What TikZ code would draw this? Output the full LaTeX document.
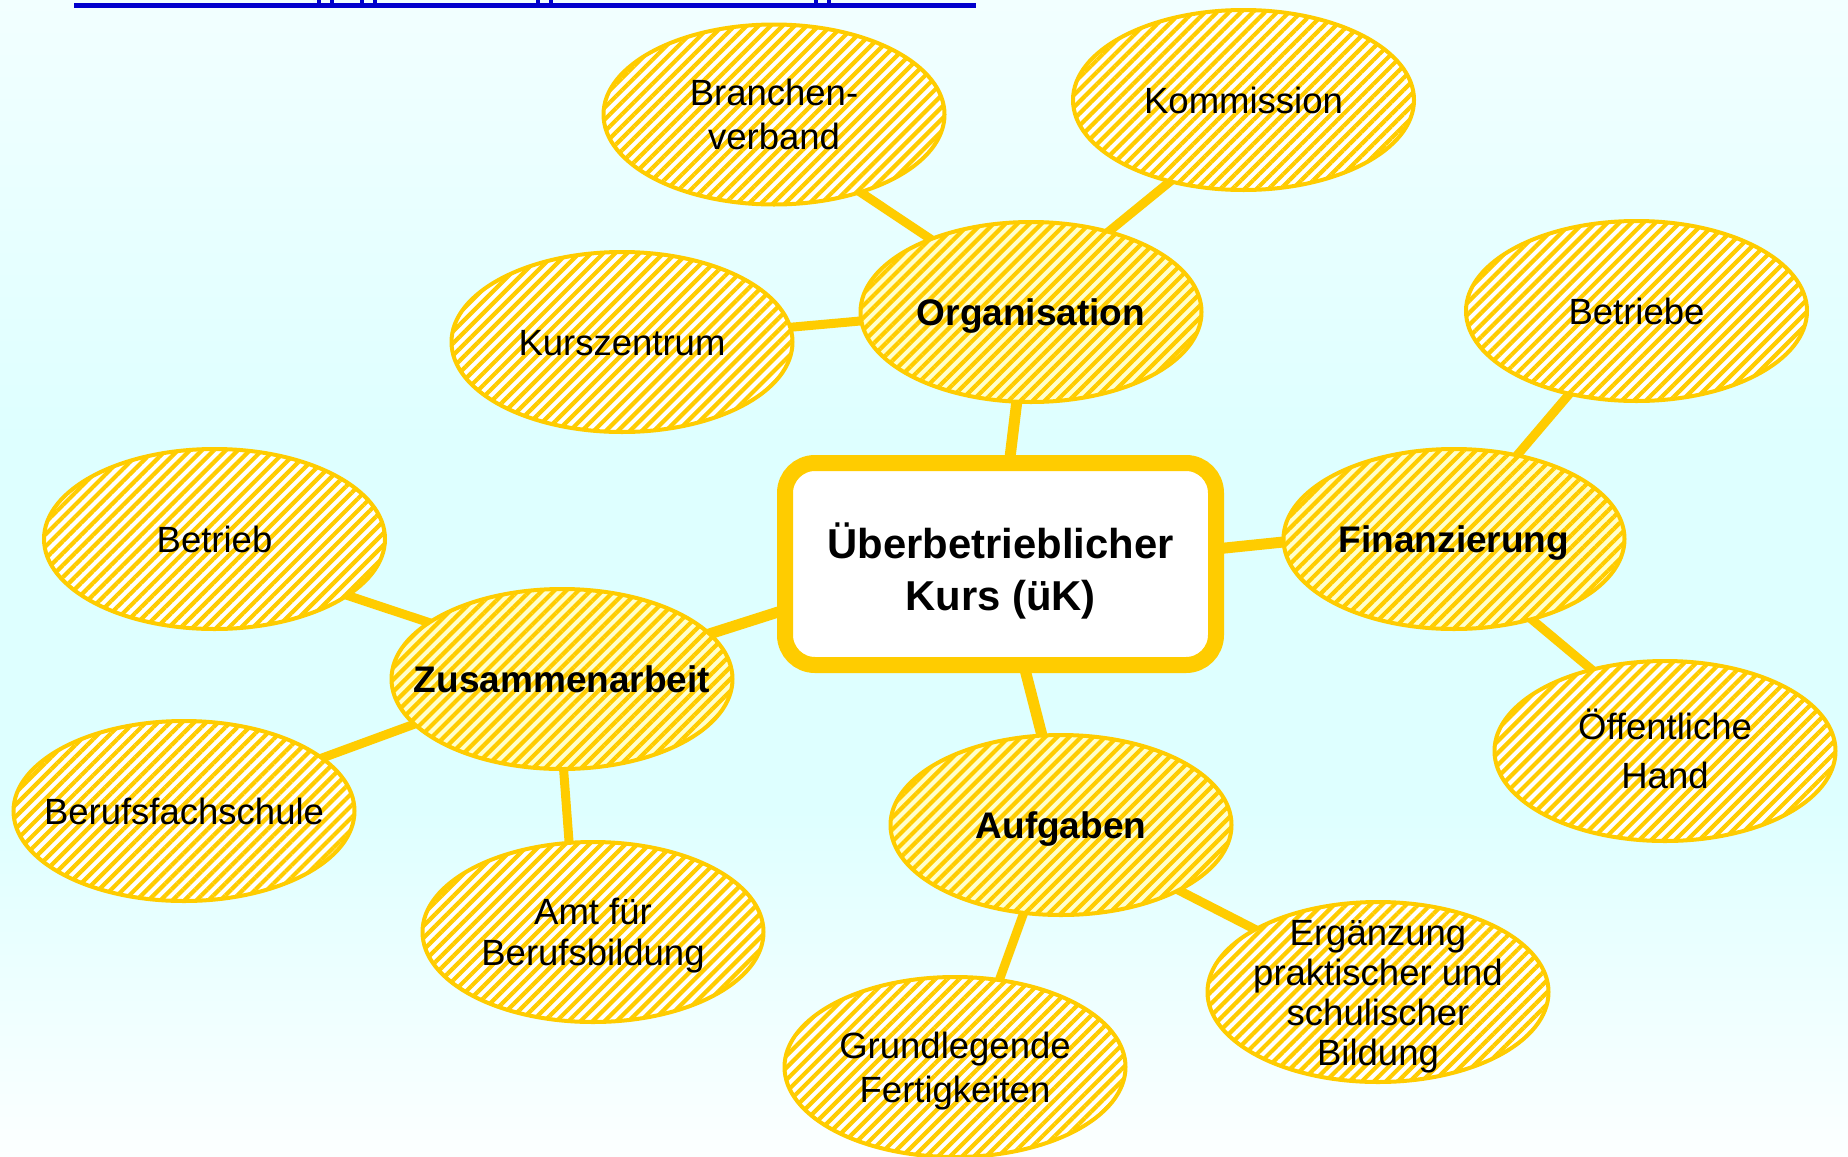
\documentclass[tikz,border=0pt]{standalone}
\usepackage{fontspec}
\setmainfont{Liberation Sans}
\usetikzlibrary{shapes.geometric,patterns.meta}
\definecolor{gold}{RGB}{255,204,0}
\definecolor{pale}{RGB}{255,255,204}
\definecolor{linkblue}{RGB}{0,0,204}
\definecolor{bgtop}{RGB}{242,255,255}
\definecolor{bgmid}{RGB}{222,255,255}
\definecolor{bgbot}{RGB}{252,255,255}
\pgfdeclareverticalshading{bgshade}{100bp}{color(0bp)=(bgbot); color(25bp)=(bgbot); color(40bp)=(bgmid); color(56bp)=(bgmid); color(75bp)=(bgtop); color(100bp)=(bgtop)}
\pgfdeclarelayer{bg}
\pgfdeclarelayer{background}
\pgfsetlayers{bg,background,main}
\newcommand{\LL}[1]{\rule{0pt}{0.716em}\smash{#1}}
\tikzset{
  bub/.style={ellipse, draw=gold, line width=4pt, minimum width=341pt,
    minimum height=180pt, inner sep=0pt, outer sep=0pt, fill=white,
    postaction={pattern={Lines[angle=45,distance=8.5pt,line width=4.2pt]}, pattern color=gold}},
  mainbub/.style={bub, fill=pale},
  lbl/.style={font=\fontsize{36.5}{42}\selectfont, align=center, text=black, inner sep=0pt},
  blbl/.style={font=\fontsize{37}{42}\selectfont\bfseries, align=center, text=black, inner sep=0pt},
  conn/.style={draw=gold, line width=11pt, shorten <=-14pt, shorten >=-14pt},
  subconn/.style={draw=gold, line width=9pt, shorten <=-12pt, shorten >=-12pt},
  centerbox/.style={draw=gold, line width=16pt, rounded corners=30pt, fill=white,
    minimum width=431pt, minimum height=202pt, inner sep=0pt, outer sep=0pt},
  centertext/.style={font=\fontsize{41.8}{52}\selectfont\bfseries, align=center, text=black, inner sep=0pt},
  linkbar/.style={fill=linkblue},
  desc/.style={draw=linkblue, line width=3.5pt}
}
\begin{document}
\begin{tikzpicture}[x=1pt,y=-1pt]
\useasboundingbox (0,0) rectangle (1848,1157);
\begin{pgfonlayer}{bg}
  \shade[shading=bgshade] (0,0) rectangle (1848,1157);
\end{pgfonlayer}

% cut-off link text at the top
\fill[linkbar] (74,3) rectangle (976,7.7);
\foreach \x in {325.5,368.5,544.5,822.5}{
  \draw[desc] (\x-6.5,0) -- (\x-6.5,4);
  \draw[desc] (\x+6.5,0) -- (\x+6.5,4);
}

% centre
\node[centerbox] (kurs) at (1000.5,564) {};
\node[centertext] (kursT) at ([yshift=-6pt]kurs.center) {\LL{Überbetrieblicher}\\\LL{Kurs (üK)}};

% main topics
\node[mainbub] (org) at (1031,312) {};
\node[mainbub] (fin) at (1454,539) {};
\node[mainbub] (zus) at (562,679) {};
\node[mainbub] (auf) at (1061,825) {};

% sub topics
\node[bub] (bra) at (774,114.5) {};
\node[bub] (kom) at (1243.5,100) {};
\node[bub] (ksz) at (622,342) {};
\node[bub] (bte) at (1636.5,311) {};
\node[bub] (oef) at (1665,751) {};
\node[bub] (btr) at (214.5,539) {};
\node[bub] (bfs) at (184,811) {};
\node[bub] (amt) at (593,932) {};
\node[bub] (erg) at (1378,992) {};
\node[bub] (gru) at (955,1067) {};

% labels
\node[blbl] (orgT) at (org) {\LL{Organisation}};
\node[blbl] (finT) at (fin) {\LL{Finanzierung}};
\node[blbl] (zusT) at (zus) {\LL{Zusammenarbeit}};
\node[blbl] (aufT) at (auf) {\LL{Aufgaben}};
\node[lbl, font=\fontsize{36.5}{44}\selectfont] (braT) at (bra) {\LL{Branchen-}\\\LL{verband}};
\node[lbl] (komT) at (kom) {\LL{Kommission}};
\node[lbl] (kszT) at (ksz) {\LL{Kurszentrum}};
\node[lbl] (bteT) at (bte) {\LL{Betriebe}};
\node[lbl, font=\fontsize{36.5}{49}\selectfont] (oefT) at (oef) {\LL{Öffentliche}\\\LL{Hand}};
\node[lbl] (btrT) at (btr) {\LL{Betrieb}};
\node[lbl] (bfsT) at (bfs) {\LL{Berufsfachschule}};
\node[lbl, font=\fontsize{36.5}{41}\selectfont] (amtT) at (amt) {\LL{Amt für}\\\LL{Berufsbildung}};
\node[lbl, font=\fontsize{36.5}{40}\selectfont] (ergT) at (erg) {\LL{Ergänzung}\\\LL{praktischer und}\\\LL{schulischer}\\\LL{Bildung}};
\node[lbl, font=\fontsize{36.5}{44}\selectfont] (gruT) at (gru) {\LL{Grundlegende}\\\LL{Fertigkeiten}};

% connectors
\begin{pgfonlayer}{background}
  \draw[conn] (kurs.85.6) -- (org.261.3);
  \draw[conn] (kurs.283.1) -- (auf.102.9);
  \draw[conn] (kurs.4.7) -- (fin.181.7);
  \draw[conn] (kurs.192.1) -- (zus.17.3);
  \draw[subconn] (org.144.6) -- (bra.318.6);
  \draw[subconn] (org.46.1) -- (kom.228.2);
  \draw[subconn] (org.183.3) -- (ksz.5.1);
  \draw[subconn] (fin.53.9) -- (bte.231.2);
  \draw[subconn] (fin.314.9) -- (oef.132.6);
  \draw[subconn] (zus.157.9) -- (btr.337.5);
  \draw[subconn] (zus.197.8) -- (bfs.21.2);
  \draw[subconn] (zus.271.5) -- (amt.105.4);
  \draw[subconn] (auf.331.7) -- (erg.153.4);
  \draw[subconn] (auf.247) -- (gru.63.4);
\end{pgfonlayer}
\end{tikzpicture}
\end{document}
